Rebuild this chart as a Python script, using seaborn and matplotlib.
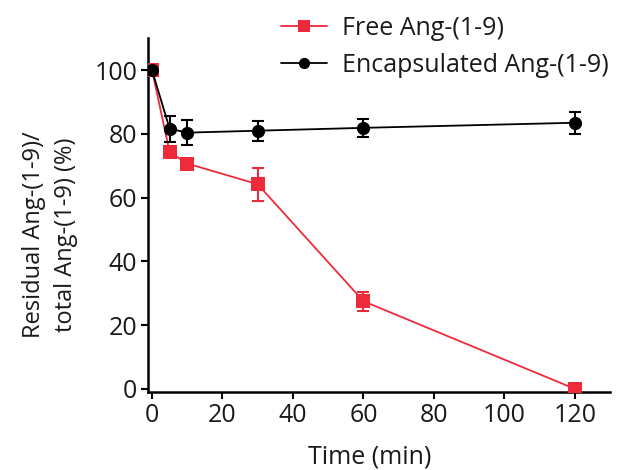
import matplotlib
matplotlib.use("Agg")
import matplotlib.pyplot as plt
import seaborn as sns
import pandas as pd

# Sampling times (min)
time_min = [0, 5, 10, 30, 60, 120]

# Residual / total Ang-(1-9) (%), mean and error
free_mean = [100, 74.3, 70.7, 64.2, 27.5, 0]
free_err = [0, 2.0, 1.0, 5.1, 3.0, 0]
encap_mean = [100, 81.6, 80.4, 81.0, 81.9, 83.5]
encap_err = [0, 4.0, 3.9, 3.1, 2.8, 3.4]

x_ticks = [0, 20, 40, 60, 80, 100, 120]
y_ticks = [0, 20, 40, 60, 80, 100]

free_label = "Free Ang-(1-9)"
encap_label = "Encapsulated Ang-(1-9)"

RED = "#EE2A3B"
BLACK = "#000000"
TEXT = "#1a1a1a"
FS = 18

sns.set_theme(style="ticks")
plt.rcParams["font.family"] = ["Open Sans", "DejaVu Sans"]

free_df = pd.DataFrame({"t": time_min, "v": free_mean})
encap_df = pd.DataFrame({"t": time_min, "v": encap_mean})

fig = plt.figure(figsize=(6.17, 4.70), dpi=100)
ax = fig.add_axes([0.2404, 0.1666, 0.9887 - 0.2404, 0.9185 - 0.1666])

sns.lineplot(data=free_df, x="t", y="v", ax=ax, color=RED, marker="s",
             markersize=10, markeredgewidth=0, linewidth=1.3,
             label=free_label, zorder=3)
ax.errorbar(time_min, free_mean, yerr=free_err, fmt="none", ecolor=RED,
            elinewidth=1.5, capsize=4, capthick=1.5, zorder=2.5)

sns.lineplot(data=encap_df, x="t", y="v", ax=ax, color=BLACK, marker="o",
             markersize=9.5, markeredgewidth=0, linewidth=1.3,
             label=encap_label, zorder=5)
ax.errorbar(time_min, encap_mean, yerr=encap_err, fmt="none", ecolor=BLACK,
            elinewidth=1.5, capsize=4, capthick=1.5, zorder=4.5)

ax.set_xlim(-1.05, 130)
ax.set_ylim(-0.9, 110)
ax.set_xticks(x_ticks)
ax.set_yticks(y_ticks)
ax.tick_params(axis="both", labelsize=FS, width=1.5, length=5, color="black",
               labelcolor=TEXT, pad=3)

for side in ("top", "right"):
    ax.spines[side].set_visible(False)
for side in ("left", "bottom"):
    ax.spines[side].set_linewidth(1.8)
    ax.spines[side].set_color("black")

ax.set_xlabel("Time (min)", fontsize=FS, color=TEXT)
ax.xaxis.set_label_coords(0.480, -0.150)
ax.set_ylabel("Residual Ang-(1-9)/\ntotal Ang-(1-9) (%)", fontsize=17,
              color=TEXT, linespacing=1.4)
ax.yaxis.set_label_coords(-0.153, 0.445)

handles, labels = ax.get_legend_handles_labels()
leg = ax.legend(handles, labels, loc="upper left",
                bbox_to_anchor=(0.4554, 0.966), bbox_transform=fig.transFigure,
                frameon=False, fontsize=FS, borderpad=0, borderaxespad=0,
                handlelength=1.84, handletextpad=0.6, labelspacing=0.48,
                markerscale=0.85)
for t in leg.get_texts():
    t.set_color(TEXT)

fig.savefig("out.png", dpi=100)
